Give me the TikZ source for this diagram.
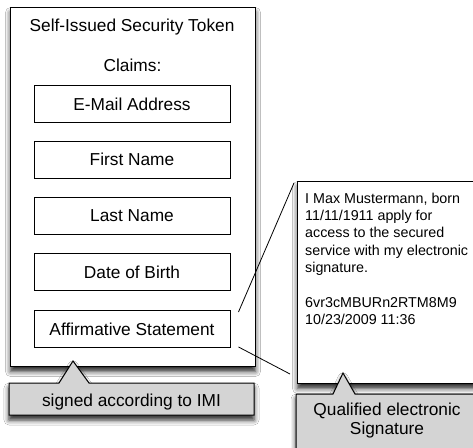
\documentclass[tikz,border=0pt]{standalone}
\usepackage{fontspec}
\setmainfont{Liberation Sans}
\usetikzlibrary{shadows.blur}

\begin{document}
\begin{tikzpicture}[x=1pt,y=-1pt,
  shade/.style={blur shadow={shadow xshift=0pt,shadow yshift=-5pt,shadow blur radius=5pt,shadow opacity=85}},
  paper/.style={draw,fill=white,line width=1pt,shade,inner sep=0pt},
  claimbox/.style={draw,fill=white,line width=0.9pt,minimum width=196pt,minimum height=37pt,inner sep=0pt,font=\fontsize{17.3}{20}\selectfont},
  label/.style={inner sep=0pt,font=\fontsize{17.3}{20}\selectfont},
  callout/.style={draw,fill=black!17,line width=1pt,line join=miter,shade}]
\path[use as bounding box,fill=white] (0,0) rectangle (473,447);
\node[paper,anchor=north west,minimum width=245pt,minimum height=359pt] (token) at (10,7) {};
\node[label,anchor=base] (title) at (132,31) {Self-Issued Security Token};
\node[label,anchor=base] (claims) at (132.5,71) {Claims:};
\node[claimbox] (email) at (132,104) {E-Mail Address};
\node[claimbox] (first) at (132,159.5) {First Name};
\node[claimbox] (last) at (132,215.5) {Last Name};
\node[claimbox] (birth) at (132,272) {Date of Birth};
\node[claimbox] (affirm) at (132,329) {Affirmative Statement};
\node[paper,anchor=north west,minimum width=185pt,minimum height=202pt] (stmt) at (297,181) {};
\node[anchor=north west,inner sep=0pt,align=left,font=\fontsize{14.3}{17.4}\selectfont] (stmttext) at (305,192.5)
  {I Max Mustermann, born\\11/11/1911 apply for\\access to the secured\\service with my electronic\\signature.\\[17.4pt]6vr3cMBURn2RTM8M9\\10/23/2009 11:36};
\draw[line width=0.8pt] ([xshift=8pt,yshift=-2pt]affirm.north east) -- ([xshift=-3pt,yshift=-2pt]stmt.north west);
\draw[line width=0.8pt] ([xshift=8pt,yshift=1pt]affirm.south east) -- ([xshift=-7pt,yshift=10pt]stmt.south west);
\coordinate (imitip) at (73,361);
\coordinate (qestip) at (343,373);
\path[callout] (9,383) -- (59,383) -- (imitip) -- (89,383) -- (254,383) |- (9,415) -- cycle;
\node[label,anchor=base] (imi) at (131.5,406) {signed according to IMI};
\path[callout] (296,394) -- (333,394) -- (qestip) -- (355,394) -- (482,394) |- (296,455) -- cycle;
\node[label,align=center,font=\fontsize{17.3}{19}\selectfont] (qes) at (387,420.5) {Qualified electronic\\Signature};
\end{tikzpicture}
\end{document}
